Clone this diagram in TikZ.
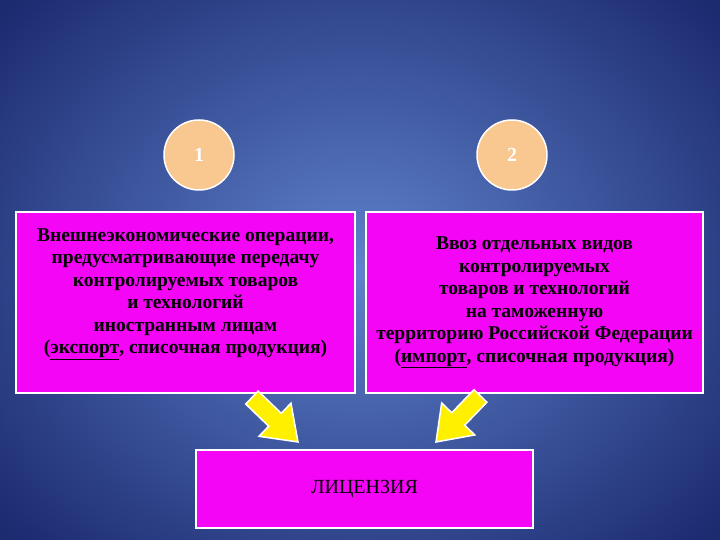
\documentclass[tikz,border=0pt]{standalone}
\usepackage{fontspec}
\setmainfont{Liberation Serif}
\definecolor{bgin}{HTML}{5F83CC}
\definecolor{bgout}{HTML}{1C2A70}
\definecolor{peach}{HTML}{F8C890}
\definecolor{mag}{HTML}{F505F5}
\definecolor{arrowy}{HTML}{FFF000}
\begin{document}
\begin{tikzpicture}[x=1pt,y=1pt,
  circ/.style={circle,draw=white,line width=1.5pt,fill=peach,minimum size=70pt,text=white,font=\fontsize{20}{22}\selectfont\bfseries},
  magbox/.style={draw=white,line width=1.5pt,fill=mag,align=center,inner sep=0pt,font=\fontsize{19.5}{22.5}\selectfont\bfseries},
  yarrow/.style={fill=arrowy,draw=white,line width=1.5pt,line join=miter}]
\useasboundingbox (0,0) rectangle (720,540);
\shade[inner color=bgin,outer color=bgout] (-120,-120) rectangle (840,660);
\node[circ] (c1) at (199,385) {1};
\node[circ] (c2) at (512,385) {2};
\node[magbox,minimum width=339pt,minimum height=181pt] (b1) at (185.5,237.5) {Внешнеэкономические операции,\\предусматривающие передачу\\контролируемых товаров\\и технологий\\иностранным лицам\\(\underline{экспорт}, списочная продукция)\\\mbox{}};
\node[magbox,minimum width=337pt,minimum height=181pt] (b2) at (534.5,237.5) {Ввоз отдельных видов\\контролируемых\\товаров и технологий\\на таможенную\\территорию Российской Федерации\\(\underline{импорт}, списочная продукция)};
\node[magbox,minimum width=337pt,minimum height=78pt,font=\fontsize{20}{22}\selectfont] (b3) at (364.5,51) {ЛИЦЕНЗИЯ};
\coordinate (t1) at (298,98);
\coordinate (t2) at (436,98);
\begin{scope}[shift={(t1)},rotate=-44+180]
\draw[yarrow] (0,0) -- (32,23) -- (32,9) -- (64,9) -- (64,-9) -- (32,-9) -- (32,-23) -- cycle;
\end{scope}
\begin{scope}[shift={(t2)},rotate=-134+180]
\draw[yarrow] (0,0) -- (32,23) -- (32,9) -- (64,9) -- (64,-9) -- (32,-9) -- (32,-23) -- cycle;
\end{scope}
\end{tikzpicture}
\end{document}
